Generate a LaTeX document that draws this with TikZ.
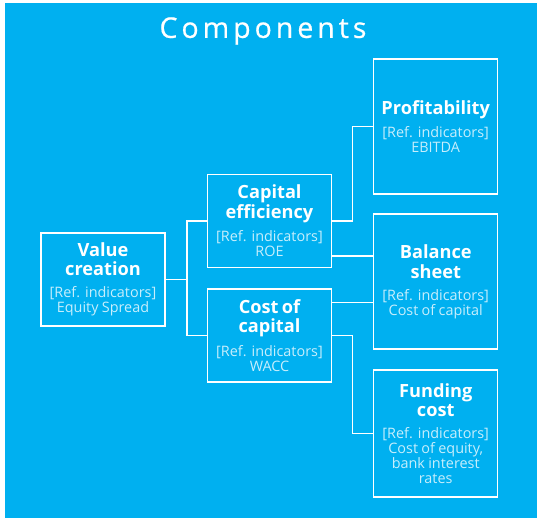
\documentclass[tikz,border=0pt]{standalone}
\usepackage{fontspec}
\setmainfont{Open Sans}
\usetikzlibrary{calc}
\definecolor{bgblue}{HTML}{00B0F0}
\colorlet{refcol}{white!78!bgblue}
\newcommand\ttlfont{\fontsize{18.2}{19.3}\bfseries\selectfont}
\newcommand\reffont{\fontsize{14.4}{15}\selectfont\color{refcol}}
\newcommand\comp[2]{{\ttlfont #1\par}\vspace{7pt}{\reffont #2\par}}

\begin{document}
\begin{tikzpicture}[x=1pt,y=-1pt,
  box/.style={draw=white,line width=1.5pt,inner sep=0pt,text width=122pt,
    align=center,text=white,minimum width=124pt},
  link/.style={draw=white,line width=1.5pt}]
\useasboundingbox (0,0) rectangle (537,518);
\fill[bgblue] (5,3) rectangle (537,518);
\node[text=white] (title) at (263,31)
  {\fontsize{28.5}{30}\selectfont\addfontfeatures{LetterSpace=14,FakeBold=0.6}Components};
% left and middle column
\node[box,minimum height=93pt] (vc) at (103,279.5)
  {\comp{Value\\creation}{[Ref. indicators]\\Equity Spread}};
\node[box,minimum height=93pt] (ce) at (269.5,221)
  {\comp{Capital\\efficiency}{[Ref. indicators]\\ROE}};
\node[box,minimum height=93pt] (cc) at (269.5,335.5)
  {\comp{Cost of\\capital}{[Ref. indicators]\\WACC}};
% right column
\node[box,minimum height=135pt] (pr) at (435.7,126.7)
  {\comp{Profitability}{[Ref. indicators]\\EBITDA}};
\node[box,minimum height=135pt] (bs) at (435.7,281.7)
  {\comp{Balance\\sheet}{[Ref. indicators]\\Cost of capital}};
\node[box,minimum height=127pt] (fc) at (435.7,433.7)
  {\comp{Funding\\cost}{[Ref. indicators]\\Cost of equity,\\bank interest\\rates}};
% links
\draw[link] (vc.east) -- ++(21,0) coordinate (j1);
\draw[link] (ce.west) -| (j1) |- (cc.west);
\draw[link] (ce.east) -- ++(20,0) |- (pr.west);
\coordinate (a1) at ([yshift=12.5pt]ce.south east);
\coordinate (a2) at ([yshift=-14pt]cc.north east);
\draw[link] (a1) -- (a1 -| bs.west);
\draw[link] (a2) -- (a2 -| bs.west);
\draw[link] (cc.east) -- ++(20,0) |- (fc.west);
\end{tikzpicture}
\end{document}
